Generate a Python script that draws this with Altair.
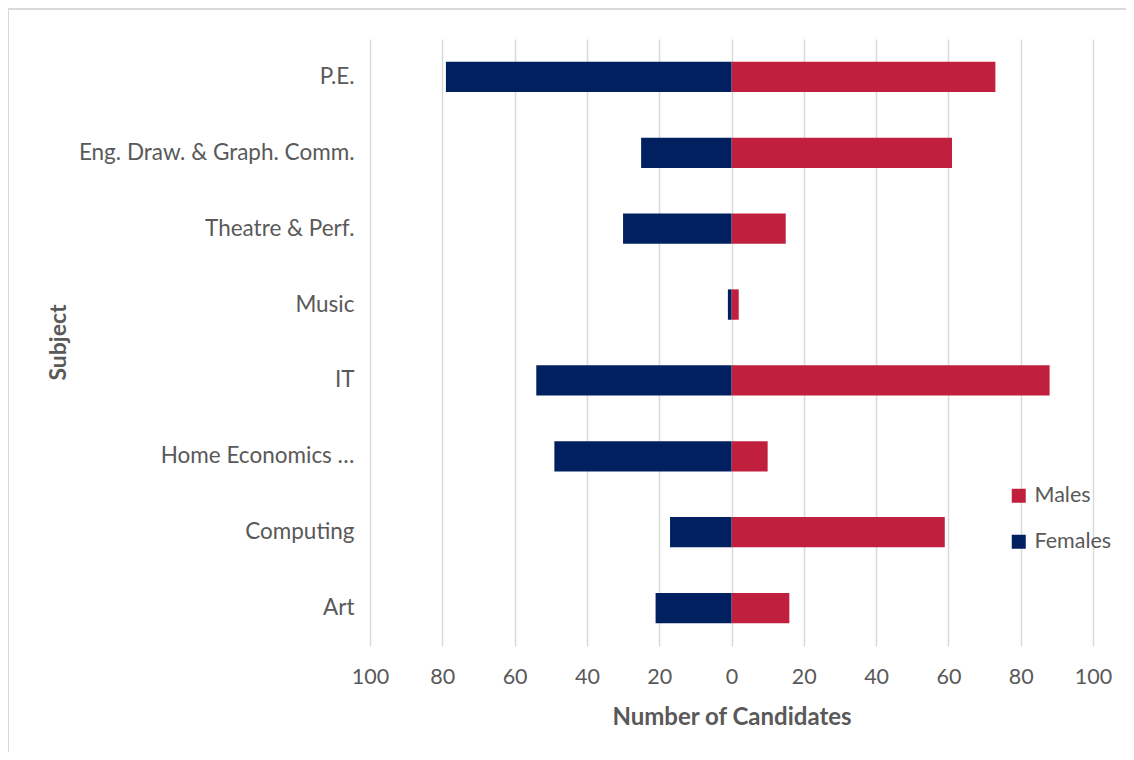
import altair as alt
import pandas as pd

subjects = ["P.E.", "Eng. Draw. & Graph. Comm.", "Theatre & Perf.", "Music",
            "IT", "Home Economics …", "Computing", "Art"]
males = [73, 61, 15, 2, 88, 10, 59, 16]
females = [79, 25, 30, 1, 54, 49, 17, 21]
series = ["Males", "Females"]
colors = ["#C0203E", "#002060"]
tick_values = [-100, -80, -60, -40, -20, 0, 20, 40, 60, 80, 100]

rows = []
for s, m, f in zip(subjects, males, females):
    rows.append({"Subject": s, "Gender": "Males", "Value": m})
    rows.append({"Subject": s, "Gender": "Females", "Value": -f})
df = pd.DataFrame(rows)

FONT = "Lato"
GREY = "#595959"

bars = alt.Chart(df).mark_bar().encode(
    y=alt.Y("Subject:N", sort=subjects,
            scale=alt.Scale(paddingInner=0.6, paddingOuter=0.3),
            axis=alt.Axis(title="Subject", domain=False, ticks=False, tickSize=0,
                          labelPadding=16, labelFontSize=22.5, labelColor=GREY,
                          labelFont=FONT, labelLimit=400,
                          titleFont=FONT, titleFontSize=23, titleFontWeight="bold",
                          titleColor=GREY, titleAngle=270, titleX=-312, titleY=303,
                          titleAlign="center", titleBaseline="middle")),
    x=alt.X("Value:Q", stack=None,
            scale=alt.Scale(domain=[-100, 100], nice=False),
            axis=alt.Axis(title="Number of Candidates", values=tick_values,
                          labelExpr="abs(datum.value)", domain=False, ticks=False,
                          tickSize=0, grid=True, gridColor="#d9d9d9", gridWidth=1.5,
                          labelPadding=20, labelFontSize=21.5, labelColor=GREY,
                          labelFont=FONT, labelFlush=False,
                          titleFont=FONT, titleFontSize=24, titleFontWeight="bold",
                          titleColor=GREY, titleY=71, titleBaseline="middle")),
    color=alt.Color("Gender:N", scale=alt.Scale(domain=series, range=colors),
                    legend=alt.Legend(title=None, orient="none", legendX=638, legendY=446,
                                      symbolType="square", symbolSize=196,
                                      symbolStrokeWidth=0, labelFontSize=21.5,
                                      labelColor=GREY, labelFont=FONT, labelOffset=5,
                                      rowPadding=23, padding=0))
)

frame = alt.Chart(pd.DataFrame({"k": [0]})).mark_rect(
    fill=None, stroke="#d9d9d9", strokeWidth=2
).encode(x=alt.value(-362), x2=alt.value(800), y=alt.value(-30), y2=alt.value(760))

chart = alt.layer(frame, bars).properties(
    width=723, height=607,
    padding={"left": 362, "top": 31, "right": 33, "bottom": 106},
    autosize=alt.AutoSizeParams(type="none"),
).configure_view(stroke=None)

chart.save("out.html", embed_options={"renderer": "svg", "actions": False})
